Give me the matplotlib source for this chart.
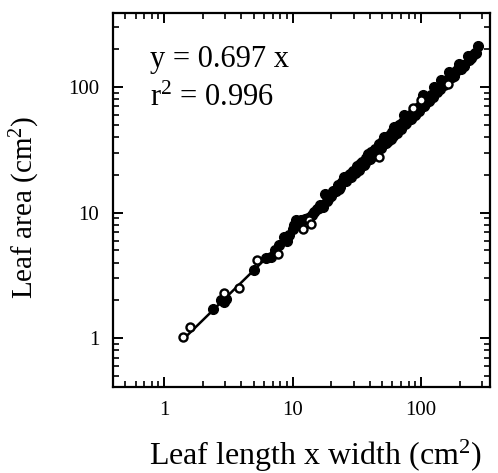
import matplotlib
matplotlib.use("Agg")
import matplotlib.pyplot as plt
from matplotlib.ticker import FixedLocator, LogLocator, NullFormatter

plt.rcParams["font.family"] = ["Liberation Serif", "DejaVu Serif"]
plt.rcParams["mathtext.fontset"] = "custom"
plt.rcParams["mathtext.rm"] = "Liberation Serif"
plt.rcParams["mathtext.it"] = "Liberation Serif:italic"

# filled circles (leaf length x width, leaf area)
x_filled = [2.39, 2.78, 2.95, 3.05, 4.99, 6.22, 6.8, 7.3, 7.9, 8.6, 9.0, 9.4,
            10.0, 10.3, 10.6, 11.0, 11.6, 12.4, 13.2, 14.1, 14.8, 15.6, 16.4,
            17.2, 17.9, 18.4, 19.3, 20.1, 21.0, 21.8, 22.7, 23.6, 24.4, 25.3,
            26.3, 27.4, 28.5, 29.6, 30.8, 32.0, 33.2, 34.5, 35.8, 37.1, 38.5,
            40.0, 40.8, 42.5, 44.0, 45.8, 47.5, 49.2, 51.0, 51.8, 53.8, 56.0,
            58.0, 60.0, 62.0, 64.5, 67.0, 69.5, 72.0, 74.1, 77.0, 80.0, 83.0,
            86.0, 89.5, 93.0, 96.5, 100.0, 103.0, 107.0, 111.0, 115.0, 120.0,
            124.0, 127.0, 133.0, 138.0, 143.0, 150.0, 157.0, 166.0, 175.0,
            185.0, 198.0, 206.0, 217.0, 231.0, 245.0, 262.0, 279.0,
            16.0, 18.9, 20.6, 23.0, 25.8, 28.0, 31.3, 33.8, 36.5, 39.3, 43.2,
            46.5, 50.0, 55.0, 57.0, 61.0, 65.5, 70.5, 75.5, 78.5, 84.5, 88.0,
            91.5, 98.0, 105.0, 109.0, 118.0, 130.0, 140.0, 147.0, 160.0, 170.0,
            180.0, 192.0, 212.0, 238.0, 254.0, 270.0]
y_filled = [1.72, 2.01, 1.94, 2.05, 3.52, 4.39, 4.44, 5.0, 5.5, 6.4, 6.0, 6.6,
            7.4, 7.93, 8.7, 8.0, 8.69, 8.9, 9.0, 9.6, 10.1, 10.6, 11.6,
            11.1, 14.2, 12.3, 13.9, 13.6, 15.0, 14.8, 16.5, 15.9, 17.6, 19.2,
            17.7, 19.9, 19.1, 21.6, 20.5, 23.4, 22.0, 25.2, 24.0, 27.0, 29.5,
            26.8, 30.3, 28.5, 32.4, 30.6, 35.0, 33.0, 37.2, 39.9, 35.6, 40.8,
            38.8, 44.0, 48.0, 43.0, 49.5, 46.0, 52.5, 59.4, 51.5, 58.0, 56.0,
            63.0, 60.0, 67.5, 65.0, 72.0, 85.8, 73.0, 80.0, 77.0, 86.0,
            84.0, 100.0, 91.0, 99.0, 113.0, 103.0, 112.0, 131.0, 120.0,
            131.0, 153.0, 140.0, 146.0, 178.0, 170.0, 185.0, 214.0,
            10.9, 12.8, 14.9, 15.4, 18.6, 20.3, 21.2, 24.6, 24.9, 28.2, 30.9,
            31.8, 36.5, 37.0, 41.5, 41.0, 47.5, 50.5, 51.0, 56.5, 57.5, 64.0,
            62.0, 70.5, 71.0, 78.5, 81.0, 93.0, 96.0, 104.0, 113.0, 121.0,
            123.0, 136.0, 150.0, 164.0, 181.0, 188.0]

# open circles
x_open = [1.40, 1.60, 2.91, 3.85, 5.29, 7.67, 12.0, 13.5, 13.8, 47.4, 87.1, 100.0, 163.0]
y_open = [1.02, 1.22, 2.29, 2.53, 4.23, 4.72, 7.46, 8.78, 8.07, 27.7, 68.4, 79.3, 106.0]

slope = 0.697
r2 = 0.996
fit_x = [1.4, 285.0]

fig = plt.figure(figsize=(4.98, 4.73), dpi=100)
ax = fig.add_axes([0.227, 0.182, 0.757, 0.791])

ax.plot(fit_x, [slope * v for v in fit_x], color="black", linewidth=1.8, zorder=2)
ax.plot(x_filled, y_filled, linestyle="none", marker="o", markersize=7,
        color="black", zorder=3)
ax.plot(x_open, y_open, linestyle="none", marker="o", markersize=5.8,
        markerfacecolor="white", markeredgecolor="black", markeredgewidth=1.7,
        zorder=4)

ax.set_xscale("log")
ax.set_yscale("log")
ax.set_xlim(0.4, 345)
ax.set_ylim(0.41, 390)

ticks = [1, 10, 100]
tick_labels = ["1", "10", "100"]
for axis in (ax.xaxis, ax.yaxis):
    axis.set_major_locator(FixedLocator(ticks))
    axis.set_minor_locator(LogLocator(base=10, subs=range(2, 10)))
    axis.set_minor_formatter(NullFormatter())
ax.set_xticklabels(tick_labels)
ax.set_yticklabels(tick_labels)

ax.tick_params(which="both", direction="in", top=True, right=True, labelsize=15)
ax.tick_params(which="major", length=7, width=1.4, pad=10)
ax.tick_params(which="minor", length=4, width=1.2)
for sp in ax.spines.values():
    sp.set_linewidth(1.6)

ax.set_xlabel("Leaf length x width (cm$^2$)", fontsize=23)
ax.set_ylabel("Leaf area (cm$^2$)", fontsize=21)
ax.xaxis.set_label_coords(0.537, -0.135)
ax.yaxis.set_label_coords(-0.188, 0.481)

ax.text(0.098, 0.875, f"y = {slope} x", transform=ax.transAxes, fontsize=22,
        va="center", ha="left")
ax.text(0.098, 0.772, f"r$^2$ = {r2}", transform=ax.transAxes, fontsize=22,
        va="center", ha="left")

fig.savefig("out.png", dpi=100)
